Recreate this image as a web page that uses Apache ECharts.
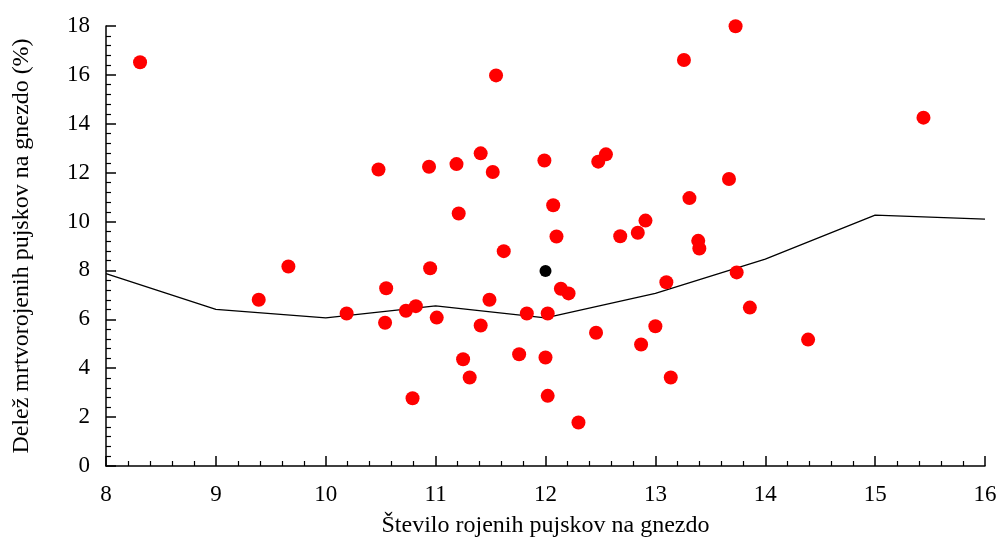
<!DOCTYPE html>
<html>
<head>
<meta charset="utf-8">
<script src="https://cdn.jsdelivr.net/npm/echarts@6/dist/echarts.min.js"></script>
<style>
  html, body { margin: 0; padding: 0; background: #fff; }
  #chart { width: 1002px; height: 538px; }
</style>
</head>
<body>
<div id="chart"></div>
<script>
// red points: [number of piglets born, share of stillborn %]
const nests = [
  [8.31, 16.52], [9.39, 6.80], [9.66, 8.16], [10.19, 6.24], [10.48, 12.13],
  [10.54, 5.86], [10.55, 7.27], [10.73, 6.35], [10.79, 2.77], [10.82, 6.54],
  [10.94, 12.24], [10.95, 8.09], [11.01, 6.07], [11.19, 12.35], [11.21, 10.33],
  [11.25, 4.37], [11.31, 3.62], [11.41, 12.79], [11.41, 5.75], [11.49, 6.80],
  [11.52, 12.03], [11.55, 15.98], [11.62, 8.79], [11.76, 4.57], [11.83, 6.24],
  [11.99, 12.50], [12.00, 4.44], [12.02, 6.24], [12.02, 2.87], [12.07, 10.67],
  [12.10, 9.39], [12.14, 7.25], [12.21, 7.06], [12.30, 1.78], [12.46, 5.45],
  [12.48, 12.45], [12.55, 12.75], [12.68, 9.40], [12.84, 9.54], [12.87, 4.97],
  [12.91, 10.04], [13.00, 5.72], [13.10, 7.52], [13.14, 3.62], [13.26, 16.61],
  [13.31, 10.96], [13.39, 9.21], [13.40, 8.90], [13.67, 11.74], [13.73, 17.99],
  [13.74, 7.92], [13.86, 6.48], [14.39, 5.17], [15.44, 14.25]
];
// black point (mean)
const meanPoint = [[12.0, 7.98]];
// trend line
const trendX = [8, 9, 10, 11, 12, 13, 14, 15, 16];
const trendY = [7.87, 6.41, 6.06, 6.55, 6.06, 7.06, 8.46, 10.26, 10.10];

const font = "'Liberation Serif', 'DejaVu Serif', serif";
const chart = echarts.init(document.getElementById('chart'));

const axisCommon = {
  type: 'value',
  nameLocation: 'middle',
  nameTextStyle: { fontFamily: font, fontSize: 24, color: '#000' },
  axisLine: { show: true, onZero: false, lineStyle: { color: '#000', width: 1.5 } },
  axisTick: { show: true, inside: true, length: 10, lineStyle: { color: '#000', width: 1.5 } },
  minorTick: { show: true, splitNumber: 5, length: 5, lineStyle: { color: '#000', width: 1.2 } },
  axisLabel: { fontFamily: font, fontSize: 23, color: '#000' },
  splitLine: { show: false }
};

chart.setOption({
  animation: false,
  backgroundColor: '#fff',
  grid: { left: 106, right: 17, top: 26, bottom: 72, outerBoundsMode: 'none', containLabel: false },
  xAxis: Object.assign({}, axisCommon, {
    min: 8, max: 16, interval: 1,
    name: 'Število rojenih pujskov na gnezdo',
    nameGap: 48,
    axisLabel: Object.assign({}, axisCommon.axisLabel, { margin: 17 })
  }),
  yAxis: Object.assign({}, axisCommon, {
    min: 0, max: 18, interval: 2,
    name: 'Delež mrtvorojenih pujskov na gnezdo (%)',
    nameGap: 72,
    axisLabel: Object.assign({}, axisCommon.axisLabel, { margin: 16 })
  }),
  series: [
    {
      type: 'line',
      data: trendX.map((x, i) => [x, trendY[i]]),
      symbol: 'none',
      lineStyle: { color: '#000', width: 1.3 },
      z: 1
    },
    {
      type: 'scatter',
      data: nests,
      symbolSize: 14,
      itemStyle: { color: '#ff0000', opacity: 1 },
      z: 2
    },
    {
      type: 'scatter',
      data: meanPoint,
      symbolSize: 12,
      itemStyle: { color: '#000', opacity: 1 },
      z: 3
    }
  ]
});
</script>
</body>
</html>
